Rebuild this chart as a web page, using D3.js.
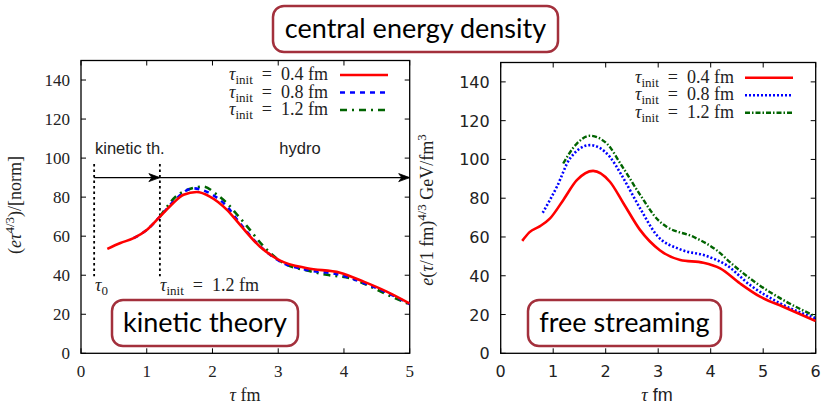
<!DOCTYPE html>
<html>
<head>
<meta charset="utf-8">
<script src="https://cdn.jsdelivr.net/npm/d3@7"></script>
<style>
  body { margin: 0; background: #fff; }
  svg { display: block; }
</style>
</head>
<body>
<div id="chart"></div>
<script>
// tau_init labels and tick values
const tauInits = ["0.4", "0.8", "1.2"];
const yTicks = [0, 20, 40, 60, 80, 100, 120, 140];
const kinXTicks = [0, 1, 2, 3, 4, 5];
const fsXTicks = [0, 1, 2, 3, 4, 5, 6];

// kinetic theory, normalized (e tau^4/3)
const kinTau04X = [0.4, 0.6, 0.8, 1.0, 1.2, 1.4, 1.56, 1.76, 1.96, 2.22, 2.42, 2.72, 3.03, 3.44, 3.94, 4.3, 4.65, 5.0];
const kinTau04Y = [53.5, 56.5, 59, 63.2, 70, 76.9, 81.2, 82.6, 80.3, 73.5, 65.8, 54.7, 47.5, 43.6, 41.3, 36.7, 31.6, 25.5];
const kinTau08X = [0.8, 1.0, 1.2, 1.4, 1.7, 1.96, 2.22, 2.42, 2.72, 3.03, 3.44, 3.94, 4.3, 4.65, 5.0];
const kinTau08Y = [59, 63.2, 70, 77.5, 84.5, 82, 75.2, 66.5, 55, 47, 42.7, 40.2, 36, 31.1, 25.2];
const kinTau12X = [1.2, 1.51, 1.86, 2.07, 2.22, 2.4, 2.52, 2.78, 3.08, 3.44, 3.74, 4.09, 4.35, 4.7, 5.0];
const kinTau12Y = [70, 82, 85.4, 81.2, 76.9, 70, 65.3, 54.7, 46.2, 42.4, 40.2, 38.5, 35, 29.4, 25];

// free streaming, e (tau/1fm)^4/3 GeV/fm^3
const fsTau04X = [0.41, 0.55, 0.75, 0.94, 1.19, 1.45, 1.76, 2.08, 2.34, 2.65, 3.03, 3.42, 3.86, 4.18, 4.56, 4.94, 5.38, 6.0];
const fsTau04Y = [58, 62.5, 65.6, 69.6, 79, 89.3, 94.1, 88.5, 77.3, 63.8, 53.2, 48.1, 46.7, 43.8, 36, 29.2, 24, 16.6];
const fsTau08X = [0.8, 1.07, 1.32, 1.7, 2.08, 2.3, 2.65, 2.97, 3.42, 3.92, 4.3, 4.75, 5.32, 6.0];
const fsTau08Y = [72.5, 85.9, 100.5, 107.4, 101.3, 92, 75, 61, 53.6, 50.2, 45.5, 35.2, 25.8, 18];
const fsTau12X = [1.19, 1.45, 1.7, 2.02, 2.3, 2.65, 3.0, 3.16, 3.67, 4.11, 4.43, 4.88, 5.38, 6.0];
const fsTau12Y = [97.9, 108.2, 112.2, 108.2, 97, 82, 68.7, 65.3, 60.1, 53.2, 45.5, 36, 27.5, 19];

const W = 823, H = 405;
const red = "#ff0000", blue = "#0000ff", green = "#006400", boxColor = "#a3303c";
const serif = "'Liberation Serif', 'DejaVu Serif', serif";
const sans = "'Liberation Sans', Arial, sans-serif";
const boxFont = "Lato, 'Open Sans', sans-serif";
const EN = "\u2002";

const svg = d3.select("#chart").append("svg").attr("width", W).attr("height", H);

const zip = (xs, ys) => xs.map((x, i) => [x, ys[i]]);

function roundBox(x, y, w, h, label) {
    svg.append("rect")
        .attr("x", x).attr("y", y).attr("width", w).attr("height", h)
        .attr("rx", 11).attr("ry", 11)
        .attr("fill", "#fff").attr("stroke", boxColor).attr("stroke-width", 2.5);
    svg.append("text")
        .attr("x", x + w / 2).attr("y", y + h / 2 + 9)
        .attr("text-anchor", "middle")
        .attr("font-family", boxFont).attr("font-size", 27)
        .attr("fill", "#000")
        .text(label);
}

// "tau_init = v fm" in math style
function tauInitText(g, x, y, val, anchor) {
    const t = g.append("text").attr("x", x).attr("y", y)
        .attr("text-anchor", anchor).attr("font-family", serif).attr("font-size", 18).attr("fill", "#222");
    t.append("tspan").attr("font-style", "italic").text("τ");
    t.append("tspan").attr("font-size", 13).attr("dy", 4).text("init");
    t.append("tspan").attr("dy", -4).text(`${EN}=${EN}${val} fm`);
}

function drawPanel(p) {
    const x = d3.scaleLinear().domain([0, p.xmax]).range([p.x0, p.x1]);
    const y = d3.scaleLinear().domain([0, 150]).range([p.bottom, p.top]);
    const g = svg.append("g");

    const clipId = "clip" + p.id;
    svg.append("clipPath").attr("id", clipId).append("rect")
        .attr("x", p.x0).attr("y", p.top).attr("width", p.x1 - p.x0).attr("height", p.bottom - p.top);

    // frame
    g.append("rect")
        .attr("x", p.x0).attr("y", p.top).attr("width", p.x1 - p.x0).attr("height", p.bottom - p.top)
        .attr("fill", "none").attr("stroke", "#000").attr("stroke-width", 1.3);

    // inward ticks, mirrored
    const tl = 5;
    p.xTicks.forEach(v => {
        g.append("line").attr("x1", x(v)).attr("x2", x(v)).attr("y1", p.bottom).attr("y2", p.bottom - tl)
            .attr("stroke", "#000").attr("stroke-width", 1);
        g.append("line").attr("x1", x(v)).attr("x2", x(v)).attr("y1", p.top).attr("y2", p.top + tl)
            .attr("stroke", "#000").attr("stroke-width", 1);
        g.append("text").attr("x", x(v)).attr("y", p.bottom + 24)
            .attr("text-anchor", "middle").attr("font-family", p.tickFont).attr("font-size", p.tickSize)
            .attr("fill", "#222").text(v);
    });
    yTicks.forEach(v => {
        g.append("line").attr("x1", p.x0).attr("x2", p.x0 + tl).attr("y1", y(v)).attr("y2", y(v))
            .attr("stroke", "#000").attr("stroke-width", 1);
        g.append("line").attr("x1", p.x1).attr("x2", p.x1 - tl).attr("y1", y(v)).attr("y2", y(v))
            .attr("stroke", "#000").attr("stroke-width", 1);
        g.append("text").attr("x", p.x0 - 11).attr("y", y(v) + 6)
            .attr("text-anchor", "end").attr("font-family", p.tickFont).attr("font-size", p.tickSize)
            .attr("fill", "#222").text(v);
    });

    // x label
    const xl = g.append("text").attr("x", p.xLabelX).attr("y", 401)
        .attr("text-anchor", "middle").attr("font-size", 18).attr("fill", "#222");
    xl.append("tspan").attr("font-family", serif).attr("font-style", "italic").text("τ");
    xl.append("tspan").attr("font-family", p.id === "kin" ? serif : sans).text(" fm");

    p.extra && p.extra(g, x, y);

    const line = d3.line().x(d => x(d[0])).y(d => y(d[1])).curve(d3.curveMonotoneX);
    const lg = g.append("g").attr("clip-path", `url(#${clipId})`);
    p.series.slice().reverse().forEach(s => {
        lg.append("path").attr("d", line(s.data))
            .attr("fill", "none").attr("stroke", s.color).attr("stroke-width", s.width)
            .attr("stroke-dasharray", s.dash);
    });

    // legend
    p.series.forEach((s, i) => {
        const ly = p.legendY + i * 17.5;
        tauInitText(g, p.legendTextX, ly + 5, tauInits[i], "end");
        g.append("line").attr("x1", p.legendLineX[0]).attr("x2", p.legendLineX[1])
            .attr("y1", ly).attr("y2", ly)
            .attr("stroke", s.color).attr("stroke-width", s.width).attr("stroke-dasharray", s.dash);
    });
}

// arrowhead
svg.append("defs").append("marker")
    .attr("id", "arrow").attr("viewBox", "-12 -5 13 10")
    .attr("refX", 0).attr("refY", 0)
    .attr("markerWidth", 13).attr("markerHeight", 10).attr("markerUnits", "userSpaceOnUse")
    .attr("orient", "auto")
    .append("path").attr("d", "M-11,-4 L0,0 L-11,4 L-8,0 Z").attr("fill", "#000").attr("stroke", "#000").attr("stroke-width", 0.8);

drawPanel({
    id: "kin",
    x0: 81, x1: 409.7, top: 60.5, bottom: 353.3, xmax: 5,
    xTicks: kinXTicks, tickFont: serif, tickSize: 17,
    xLabelX: 245,
    legendY: 75, legendTextX: 328, legendLineX: [340, 388],
    series: [
        { data: zip(kinTau04X, kinTau04Y), color: red, width: 2.6, dash: null },
        { data: zip(kinTau08X, kinTau08Y), color: blue, width: 2.6, dash: "5,5" },
        { data: zip(kinTau12X, kinTau12Y), color: green, width: 2.6, dash: "7,5,2,5" },
    ],
    extra: (g, x, y) => {
        // dotted markers at tau0 and tau_init
        [0.2, 1.2].forEach(t => {
            g.append("line").attr("x1", x(t)).attr("x2", x(t)).attr("y1", y(97)).attr("y2", y(39.5))
                .attr("stroke", "#000").attr("stroke-width", 1.8).attr("stroke-dasharray", "2.5,3");
        });
        g.append("line").attr("x1", x(0.2)).attr("x2", x(1.2)).attr("y1", y(90)).attr("y2", y(90))
            .attr("stroke", "#000").attr("stroke-width", 1.3).attr("marker-end", "url(#arrow)");
        g.append("line").attr("x1", x(1.2)).attr("x2", x(5)).attr("y1", y(90)).attr("y2", y(90))
            .attr("stroke", "#000").attr("stroke-width", 1.3).attr("marker-end", "url(#arrow)");
        g.append("text").attr("x", 95).attr("y", 154).attr("font-family", sans).attr("font-size", 16.5)
            .attr("fill", "#222").text("kinetic th.");
        g.append("text").attr("x", 300).attr("y", 154).attr("text-anchor", "middle")
            .attr("font-family", sans).attr("font-size", 16.5).attr("fill", "#222").text("hydro");
        const t0 = g.append("text").attr("x", 95).attr("y", 291).attr("font-family", serif)
            .attr("font-size", 18).attr("fill", "#222");
        t0.append("tspan").attr("font-style", "italic").text("τ");
        t0.append("tspan").attr("font-size", 13).attr("dy", 4).text("0");
        tauInitText(g, 160, 291, "1.2", "start");
    },
});

drawPanel({
    id: "fs",
    x0: 500.7, x1: 815.7, top: 62.5, bottom: 353.3, xmax: 6,
    xTicks: fsXTicks, tickFont: "'DejaVu Sans', sans-serif", tickSize: 16,
    xLabelX: 657,
    legendY: 77.7, legendTextX: 734, legendLineX: [745, 793],
    series: [
        { data: zip(fsTau04X, fsTau04Y), color: red, width: 2.6, dash: null },
        { data: zip(fsTau08X, fsTau08Y), color: blue, width: 2.6, dash: "2,2" },
        { data: zip(fsTau12X, fsTau12Y), color: green, width: 2.4, dash: "5,2,1.5,2" },
    ],
});

// y axis labels
const yl1 = svg.append("text").attr("transform", "translate(21,205) rotate(-90)")
    .attr("text-anchor", "middle").attr("font-family", serif).attr("font-size", 18).attr("fill", "#222");
yl1.append("tspan").text("(");
yl1.append("tspan").attr("font-style", "italic").text("eτ");
yl1.append("tspan").attr("font-size", 13).attr("dy", -7).text("4/3");
yl1.append("tspan").attr("dy", 7).text(")/[norm]");

const yl2 = svg.append("text").attr("transform", "translate(433,210) rotate(-90)")
    .attr("text-anchor", "middle").attr("font-family", serif).attr("font-size", 18).attr("fill", "#222");
yl2.append("tspan").attr("font-style", "italic").text("e");
yl2.append("tspan").text("(");
yl2.append("tspan").attr("font-style", "italic").text("τ");
yl2.append("tspan").text("/1 fm)");
yl2.append("tspan").attr("font-size", 13).attr("dy", -7).text("4/3");
yl2.append("tspan").attr("dy", 7).text(" GeV/fm");
yl2.append("tspan").attr("font-size", 13).attr("dy", -7).text("3");

// boxed labels
roundBox(273, 6, 285, 46, "central energy density");
roundBox(112, 300, 186, 46, "kinetic theory");
roundBox(528, 300, 193, 46, "free streaming");
</script>
</body>
</html>
